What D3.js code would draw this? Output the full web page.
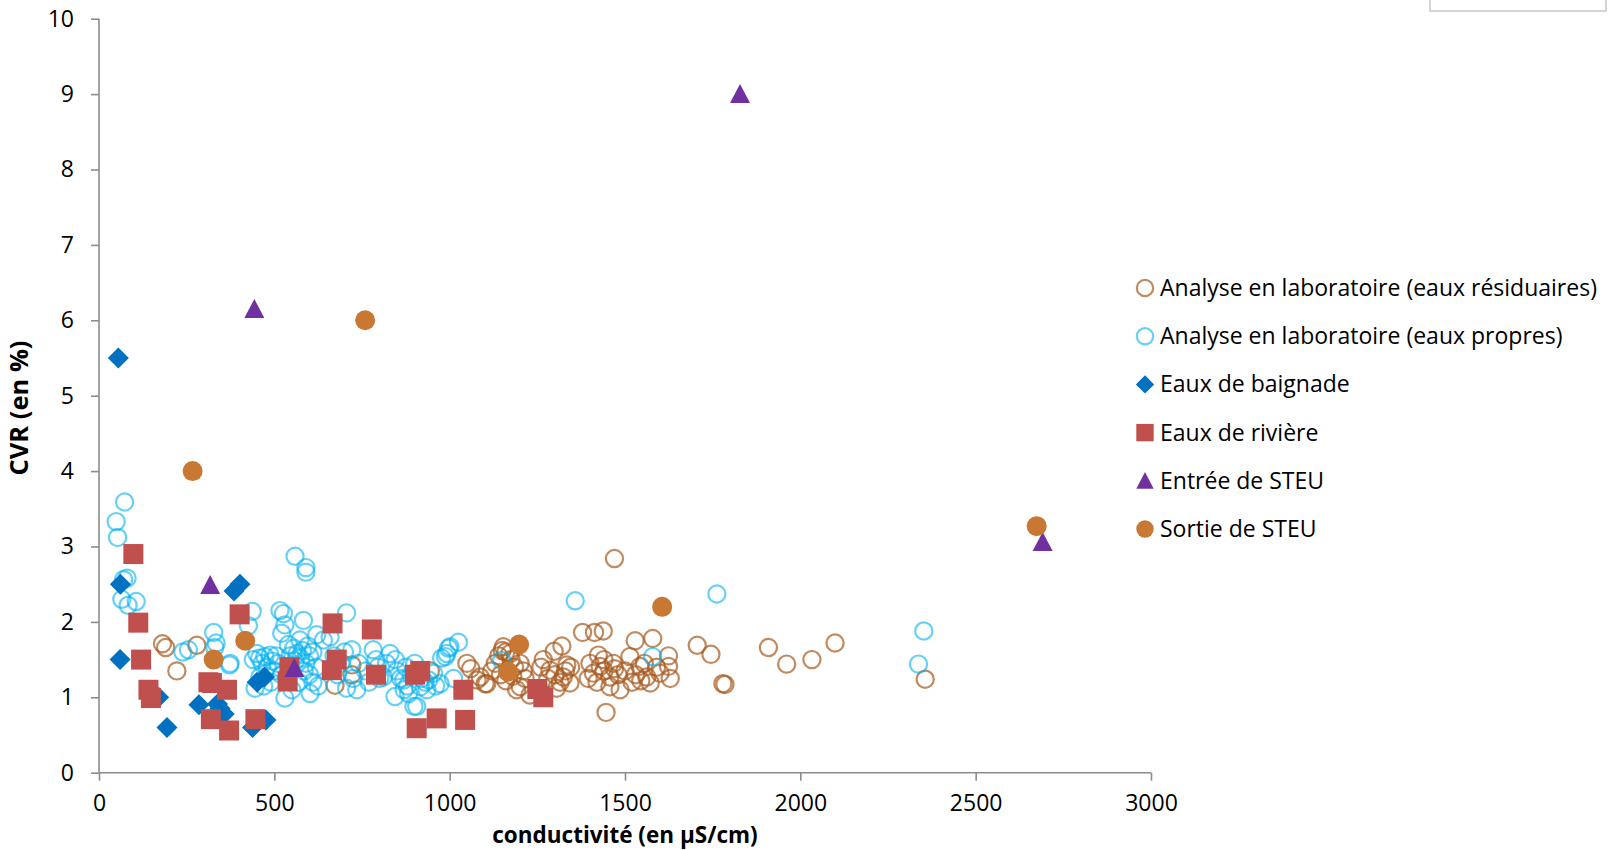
<!DOCTYPE html>
<html>
<head>
<meta charset="utf-8">
<script src="https://cdn.jsdelivr.net/npm/d3@7/dist/d3.min.js"></script>
<style>
  html, body { margin: 0; padding: 0; background: #fff; }
  svg { display: block; font-family: "Open Sans", sans-serif; }
</style>
</head>
<body>
<svg id="chart" width="1621" height="850"></svg>
<script>
// Axis ticks
const xTicks = [0, 500, 1000, 1500, 2000, 2500, 3000];
const yTicks = [0, 1, 2, 3, 4, 5, 6, 7, 8, 9, 10];

// Series names (legend order)
const seriesNames = [
  "Analyse en laboratoire (eaux résiduaires)",
  "Analyse en laboratoire (eaux propres)",
  "Eaux de baignade",
  "Eaux de rivière",
  "Entrée de STEU",
  "Sortie de STEU"
];

// [conductivité (µS/cm), CVR (%)]
const eauxResiduaires = [
  [181,1.71],[190,1.66],[222,1.35],[279,1.69],[673,1.16],[721,1.43],[721,1.30],
  [945,1.35],[1049,1.45],[1060,1.38],[1078,1.23],[1087,1.27],[1101,1.18],[1106,1.18],
  [1120,1.35],[1130,1.45],[1140,1.55],[1150,1.62],[1160,1.60],[1172,1.58],[1153,1.67],
  [1145,1.30],[1160,1.22],[1180,1.28],[1191,1.10],[1201,1.45],[1201,1.14],[1210,1.35],
  [1215,1.25],[1229,1.03],[1185,1.40],[1175,1.50],
  [1267,1.50],[1260,1.40],[1286,1.36],[1298,1.61],[1320,1.68],[1334,1.43],[1324,1.27],
  [1343,1.19],[1305,1.12],[1280,1.25],[1300,1.30],[1315,1.20],[1330,1.35],[1345,1.40],
  [1379,1.86],[1413,1.86],[1438,1.88],[1400,1.45],[1424,1.56],[1440,1.50],[1429,1.41],
  [1467,1.45],[1410,1.32],[1440,1.35],[1457,1.27],[1470,1.38],[1480,1.30],[1457,1.14],
  [1486,1.10],[1446,0.80],[1470,2.84],[1395,1.25],[1420,1.20],[1500,1.35],
  [1514,1.54],[1529,1.75],[1543,1.41],[1562,1.27],[1572,1.19],[1579,1.78],[1530,1.30],
  [1555,1.45],[1590,1.40],[1600,1.32],[1624,1.55],[1624,1.41],[1629,1.25],[1520,1.20],
  [1545,1.22],
  [1706,1.69],[1745,1.57],[1779,1.18],[1785,1.17],[1909,1.66],[1961,1.44],[2033,1.50],
  [2099,1.72],[2356,1.24]
];

const eauxPropres = [
  [49,3.33],[53,3.12],[73,3.59],[70,2.56],[80,2.58],[65,2.30],[83,2.22],[106,2.27],
  [239,1.60],[255,1.63],[327,1.86],[334,1.72],[330,1.66],[372,1.43],
  [437,2.14],[426,1.95],[374,1.45],[450,1.58],[440,1.50],[458,1.52],[473,1.54],[488,1.56],
  [465,1.45],[480,1.40],[459,1.27],[445,1.12],[470,1.15],[490,1.20],[500,1.35],[495,1.48],
  [505,1.55],[510,1.45],
  [516,2.15],[526,2.11],[530,1.96],[521,1.85],[583,2.02],[559,2.87],[590,2.72],[590,2.66],
  [573,1.76],[540,1.70],[555,1.65],[565,1.58],[580,1.62],[595,1.68],[545,1.55],[560,1.48],
  [575,1.52],[590,1.45],[600,1.55],[610,1.60],[621,1.83],[640,1.76],[659,1.80],[620,1.40],
  [600,1.30],[585,1.35],[530,0.99],[602,1.05],[550,1.10],[520,1.30],[535,1.25],[610,1.20],
  [625,1.15],[570,1.20],
  [706,2.12],[721,1.63],[700,1.60],[690,1.45],[706,1.12],[735,1.10],[782,1.63],[790,1.50],
  [795,1.40],[760,1.35],[740,1.45],[670,1.55],[680,1.30],[725,1.25],[770,1.20],[800,1.25],
  [811,1.27],[830,1.58],[820,1.45],[845,1.50],[850,1.35],[844,1.01],[860,1.25],[869,1.23],
  [875,1.40],[883,1.05],[890,1.30],[898,0.88],[906,0.88],[917,1.14],[920,1.25],[930,1.20],
  [940,1.23],[954,1.32],[960,1.15],[973,1.18],[977,1.52],[988,1.54],[992,1.58],[997,1.65],
  [1001,1.67],[1011,1.25],[1025,1.73],[880,1.15],[900,1.45],[935,1.10],[870,1.10],
  [1148,1.49],[1358,2.28],[1579,1.54],[1762,2.37],[2352,1.88],[2337,1.44]
];

const eauxBaignade = [
  [55,5.50],[61,2.50],[60,1.50],[170,1.00],[194,0.60],[285,0.90],[338,0.91],[357,0.78],
  [345,0.85],[385,2.41],[402,2.50],[451,1.20],[472,1.27],[438,0.60],[476,0.70]
];

const eauxRiviere = [
  [98,2.90],[112,1.99],[120,1.50],[141,1.10],[148,0.99],[312,1.20],[322,1.19],[319,0.71],
  [365,1.10],[371,0.56],[401,2.10],[446,0.71],[538,1.21],[543,1.40],[666,1.98],[664,1.36],
  [678,1.50],[778,1.90],[790,1.30],[901,1.30],[916,1.35],[906,0.59],[963,0.72],[1039,1.10],
  [1044,0.70],[1250,1.11],[1267,1.00]
];

const entreeSTEU = [
  [317,2.49],[443,6.15],[557,1.39],[1828,9.00],[2691,3.06]
];

const sortieSTEU = [
  [267,4.00],[327,1.50],[417,1.75],[759,6.00],[1166,1.34],[1198,1.70],[1606,2.20],[2674,3.27]
];

// ---- layout ----
const svg = d3.select("#chart");
const x = d3.scaleLinear().domain([0, 3000]).range([99, 1151]);
const y = d3.scaleLinear().domain([0, 10]).range([772.7, 18.7]);

const axisColor = "#8c8c8c";

// marker shapes (path strings centred on 0,0)
const shapes = {
  circle: r => `M${-r},0a${r},${r} 0 1,0 ${2*r},0a${r},${r} 0 1,0 ${-2*r},0Z`,
  square: s => `M${-s/2},${-s/2}h${s}v${s}h${-s}Z`,
  diamond: s => `M0,${-s/2}L${s/2},0L0,${s/2}L${-s/2},0Z`,
  triangle: s => `M0,${-s*0.5}L${s/2},${s*0.45}L${-s/2},${s*0.45}Z`
};

const styles = [
  { data: eauxResiduaires, shape: "circle", size: 8.6, fill: "none", stroke: "#a65a1e", sw: 2.2, op: 0.7 },
  { data: eauxPropres,     shape: "circle", size: 8.6, fill: "none", stroke: "#00b0f0", sw: 2.2, op: 0.6 },
  { data: eauxBaignade,    shape: "diamond", size: 21, fill: "#0070c0", stroke: "none", sw: 0, op: 1 },
  { data: eauxRiviere,     shape: "square", size: 20, fill: "#c0504d", stroke: "none", sw: 0, op: 1 },
  { data: entreeSTEU,      shape: "triangle", size: 20, fill: "#7030a0", stroke: "none", sw: 0, op: 1 },
  { data: sortieSTEU,      shape: "circle", size: 10, fill: "#c97834", stroke: "none", sw: 0, op: 1 }
];

// frame box at the top right
svg.append("rect")
  .attr("x", 1430).attr("y", -10).attr("width", 176).attr("height", 21)
  .attr("fill", "none").attr("stroke", "#c8c8c8").attr("stroke-width", 1.5);

// axes
const gx = svg.append("g").attr("transform", `translate(0,${y(0)})`)
  .call(d3.axisBottom(x).tickValues(xTicks).tickSize(8).tickSizeOuter(0).tickPadding(14).tickFormat(d3.format("d")));
const gy = svg.append("g").attr("transform", `translate(${x(0)},0)`)
  .call(d3.axisLeft(y).tickValues(yTicks).tickSize(8).tickSizeOuter(0).tickPadding(17).tickFormat(d3.format("d")));

[gx, gy].forEach(g => {
  g.select(".domain").attr("stroke", axisColor).attr("stroke-width", 1.6);
  g.selectAll(".tick line").attr("stroke", axisColor).attr("stroke-width", 1.6);
  g.selectAll(".tick text").attr("fill", "#000").style("font-size", "23px")
    .style("font-family", "'Open Sans', sans-serif");
});
// x axis line extends to the end of the range
gx.select(".domain").attr("d", `M${x(0)},0H${x(3000)}`);
gy.select(".domain").attr("d", `M0,${y(0)}V${y(10)}`);

// axis titles
svg.append("text")
  .attr("x", 625).attr("y", 843)
  .attr("text-anchor", "middle")
  .style("font-weight", "bold").style("font-size", "22.5px")
  .text("conductivité (en µS/cm)");

svg.append("text")
  .attr("transform", "translate(28,408) rotate(-90)")
  .attr("text-anchor", "middle")
  .style("font-weight", "bold").style("font-size", "25.5px")
  .text("CVR (en %)");

// points
const plot = svg.append("g");
styles.forEach(s => {
  plot.append("g").selectAll("path")
    .data(s.data)
    .join("path")
    .attr("d", shapes[s.shape](s.size))
    .attr("transform", d => `translate(${x(d[0])},${y(d[1])})`)
    .attr("fill", s.fill)
    .attr("stroke", s.stroke)
    .attr("stroke-width", s.sw)
    .attr("stroke-opacity", s.op)
    .attr("fill-opacity", s.fill === "none" ? null : s.op);
});

// legend
const legend = svg.append("g").attr("transform", "translate(1145,288)");
const legendScale = [0.95, 0.95, 0.87, 0.87, 0.87, 0.87];
seriesNames.forEach((name, i) => {
  const s = styles[i];
  const row = legend.append("g").attr("transform", `translate(0,${i * 48.2})`);
  row.append("path")
    .attr("d", shapes[s.shape](s.size * legendScale[i]))
    .attr("fill", s.fill)
    .attr("stroke", s.stroke)
    .attr("stroke-width", s.sw)
    .attr("stroke-opacity", s.op);
  row.append("text")
    .attr("x", 15).attr("y", 0).attr("dy", "0.35em")
    .style("font-size", "23px")
    .attr("fill", "#000")
    .text(name);
});
</script>
</body>
</html>
